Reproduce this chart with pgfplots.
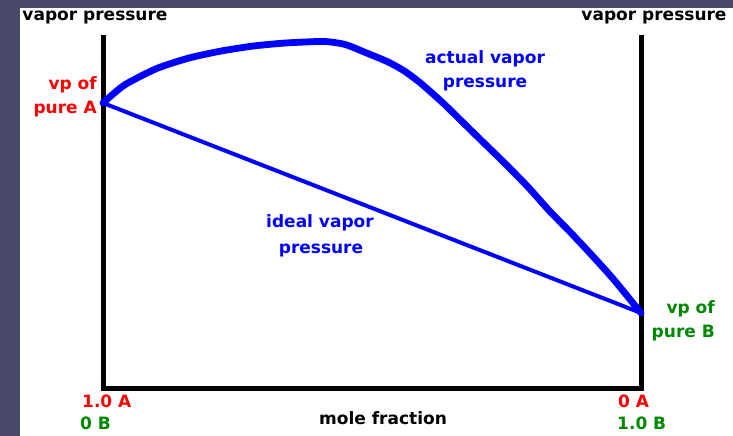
\documentclass[border=0pt]{standalone}
\usepackage{fontspec}
\setmainfont{DejaVu Sans}
\usepackage{pgfplots}
\pgfplotsset{compat=1.18}
\definecolor{bgslate}{RGB}{72,72,104}
\definecolor{myblue}{RGB}{0,0,255}
\definecolor{myred}{RGB}{255,0,0}
\definecolor{mygreen}{RGB}{0,136,0}
\newcommand{\lab}{\bfseries\fontsize{17bp}{20bp}\selectfont}
\begin{document}
\begin{tikzpicture}[x=1bp,y=1bp]
\fill[bgslate] (0,0) rectangle (733,436);
\fill[white] (20,0) rectangle (733,428);
\begin{axis}[
  at={(103bp,47bp)}, anchor=south west,
  scale only axis, width=538bp, height=354bp,
  xmin=0, xmax=1, ymin=0, ymax=354,
  hide axis, clip=false,
]
\draw[black, line width=5bp] (rel axis cs:0,1) -- (rel axis cs:0,0) -- (rel axis cs:1,0) -- (rel axis cs:1,1);
% ideal vapour pressure (Raoult's law)
\addplot[myblue, line width=4bp, no markers] coordinates {(0,286) (1,76)};
% actual vapour pressure
\addplot[myblue, line width=6.8bp, no markers, smooth, tension=0.4, line cap=round, line join=round] coordinates {
(0,286) (0.04,304) (0.10,320.5) (0.16,331) (0.22,338) (0.28,343)
(0.34,346) (0.41,347.5) (0.45,344.5) (0.49,336) (0.53,327) (0.56,318)
(0.59,306) (0.63,287) (0.67,266) (0.71,245) (0.75,224) (0.79,202)
(0.83,178) (0.87,156) (0.91,133) (0.95,109) (1.0,76)};
\end{axis}
% axis titles
\node[anchor=base, inner sep=0pt] at (95,415) {\lab vapor pressure};
\node[anchor=base, inner sep=0pt] at (654,415) {\lab vapor pressure};
\node[anchor=base, inner sep=0pt] at (383,11) {\lab mole fraction};
% curve labels
\node[anchor=base, inner sep=0pt, text=myblue] at (485,372) {\lab actual vapor};
\node[anchor=base, inner sep=0pt, text=myblue] at (485,348.5) {\lab pressure};
\node[anchor=base, inner sep=0pt, text=myblue] at (320,208.5) {\lab ideal vapor};
\node[anchor=base, inner sep=0pt, text=myblue] at (321,182) {\lab pressure};
% pure component labels
\node[anchor=base east, inner sep=0pt, text=myred] at (97,346.5) {\lab vp of};
\node[anchor=base east, inner sep=0pt, text=myred] at (97,322.5) {\lab pure A};
\node[anchor=base east, inner sep=0pt, text=mygreen] at (715,122.5) {\lab vp of};
\node[anchor=base east, inner sep=0pt, text=mygreen] at (715,98) {\lab pure B};
% composition ends
\node[anchor=base west, inner sep=0pt, text=myred] at (82,28) {\lab 1.0 A};
\node[anchor=base west, inner sep=0pt, text=mygreen] at (80,6) {\lab 0 B};
\node[anchor=base west, inner sep=0pt, text=myred] at (618,28) {\lab 0 A};
\node[anchor=base west, inner sep=0pt, text=mygreen] at (617,6) {\lab 1.0 B};
\end{tikzpicture}
\end{document}
